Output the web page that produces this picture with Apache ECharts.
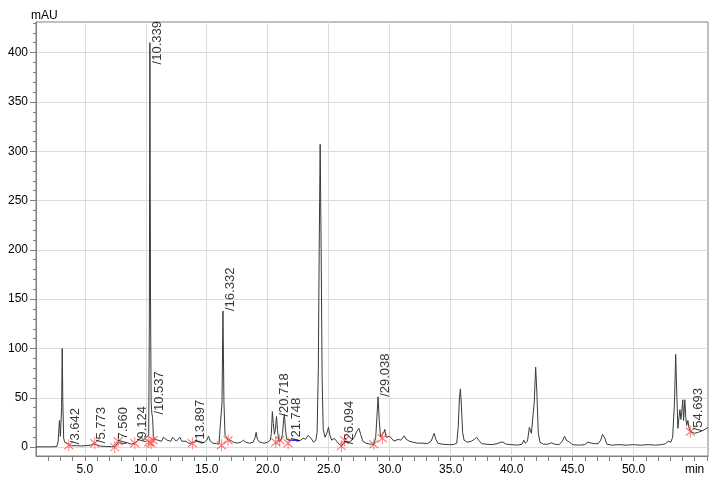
<!DOCTYPE html>
<html><head><meta charset="utf-8">
<script src="https://cdn.jsdelivr.net/npm/echarts@6/dist/echarts.min.js"></script>
<style>html,body{margin:0;padding:0;background:#fff}#c{width:721px;height:485px}</style>
</head><body><div id="c"></div>
<script>
// Chromatogram trace: [retention time (min), signal (mAU)]
const trace = [
[1.0,0.3],[2.0,0.3],[2.7,0.5],[2.82,6],[2.92,27],[3.0,11],[3.06,9],[3.1,40],[3.15,100],[3.2,45],[3.27,9],[3.35,5],[3.45,6],[3.55,4],[3.7,2],
[3.9,1.5],[4.3,1.5],[4.7,1.2],[5.1,1.5],[5.5,2],[5.7,3.5],[5.8,4.5],[5.95,2.5],[6.3,1],[6.8,0.6],[7.2,0.5],[7.46,0.3],[7.6,2],[7.75,5],[7.9,4],[8.2,3.5],[8.5,4.5],[8.8,3],[9.1,4],[9.25,6],[9.4,7],[9.55,9],[9.65,10],[9.8,7],[9.9,8],[10.05,10],[10.15,8],[10.24,12],
[10.29,120],[10.34,410],[10.39,150],[10.44,45],[10.5,34],[10.56,30],[10.62,12],[10.7,8],
[10.85,10],[11.0,7],[11.15,9],[11.3,6],[11.45,10],[11.6,11],[11.75,7],[11.9,9],[12.05,6],[12.2,10],[12.35,11],[12.5,6],[12.65,8],[12.8,10],[12.95,6],[13.1,5],[13.3,6],[13.5,4],[13.7,4],[13.85,3],[14.0,5],[14.2,6],[14.4,5],[14.6,4],[14.8,5],[15.0,7],[15.15,11],[15.3,6],[15.5,4],[15.8,3.5],[16.0,3],[16.15,3],
[16.25,45],[16.33,138],[16.41,45],[16.5,12],[16.6,10],[16.75,8],[16.9,6],[17.2,5],[17.5,4],[17.8,5],[18.0,7],[18.2,5],[18.5,4],[18.8,5],[18.95,9],[19.05,15],[19.15,8],[19.35,5],[19.7,4],[20.0,5],[20.2,7],[20.3,14],
[20.38,36],[20.46,24],[20.55,13],[20.63,18],[20.72,31],[20.8,18],[20.9,6],[21.0,5],[21.1,7],[21.22,14],[21.3,28],[21.37,33],[21.44,20],[21.55,8],[21.7,6],[21.85,7],[22.0,6],[22.2,7],[22.45,6],[22.7,7],[22.9,9],[23.1,8],[23.3,12],[23.42,14],[23.55,9],[23.75,5],[23.95,7],[24.05,15],
[24.15,80],[24.22,200],[24.3,307],[24.38,200],[24.46,70],[24.55,18],[24.7,10],[24.85,14],[24.98,20],[25.1,12],[25.25,7],[25.45,9],[25.65,6],[25.85,3],[26.04,1],[26.2,4],[26.45,6],[26.7,5],[26.9,7],[27.1,10],[27.3,16],[27.48,19],[27.62,13],[27.8,6],[28.05,4],[28.4,3],[28.7,3],[28.85,9],
[28.95,30],[29.05,51],[29.14,28],[29.25,10],[29.38,9],[29.52,15],[29.6,18],[29.7,10],[29.85,8],[30.0,11],[30.15,9],[30.35,6],[30.5,6],[30.7,8],[30.9,7],[31.05,9],[31.2,11.5],[31.35,8],[31.6,6],[31.9,5],[32.3,4],[32.7,4],[33.1,3.5],[33.4,6],[33.55,11],[33.65,14],[33.78,8],[33.95,4],[34.3,3],[34.8,2.5],[35.2,2.5],[35.5,4],
[35.62,20],[35.72,50],[35.8,59],[35.88,42],[35.98,15],[36.1,7],[36.35,5],[36.7,6],[36.95,8],[37.12,10],[37.3,7],[37.55,3.5],[37.9,3],[38.4,2.5],[38.8,3.5],[39.1,5],[39.3,5],[39.55,3],[40.0,2.5],[40.5,2],[40.85,3],[41.0,7],[41.12,4],[41.3,6],[41.45,20],[41.52,22],[41.62,14],[41.72,12],
[41.85,45],[41.97,81],[42.07,55],[42.18,15],[42.32,5],[42.6,3],[43.0,3],[43.25,4.5],[43.5,3],[43.9,2.5],[44.15,6],[44.34,11],[44.48,7],[44.6,8],[44.75,5],[45.0,2.5],[45.5,2],[46.0,2.5],[46.25,5],[46.38,7],[46.55,4],[46.75,3.5],[46.9,4.5],[47.1,3.5],[47.3,7],[47.45,13],[47.54,14.5],[47.64,9],[47.8,3],
[48.2,2],[48.8,2.5],[49.4,2],[50.0,2.5],[50.6,2],[51.2,2.5],[51.8,2],[52.3,2.5],[52.6,3.5],[52.85,6],[53.05,5],[53.2,10],[53.35,45],[53.45,94],[53.55,50],[53.63,19],[53.72,30],[53.8,38],[53.88,28],[53.95,36],[54.03,48],[54.1,27],[54.2,48],[54.28,30],[54.35,22],[54.45,27],[54.55,19],[54.65,16],[54.8,14],[55.0,14],[55.3,15],[55.6,16.5],[55.85,18],[56.1,20]
];

// Labelled peaks
const peakRT  = [3.642, 5.773, 7.560, 9.124, 10.339, 10.537, 13.897, 16.332, 20.718, 21.748, 26.094, 29.038, 54.693];
const peakMAU = [3,     4,     4,     5,     410,    33,     4,      138,    31,     6,      3,      51,     16];

// Integration event markers (red)
const markerMin = [3.69, 5.82, 7.46, 7.73, 9.10, 10.25, 10.43, 10.60, 13.82, 16.20, 16.75, 20.66, 20.98, 21.67, 26.04, 26.30, 28.70, 29.40, 54.65];
const markerMAU = [2,    4,    0,    6,    4,    5,     4,     7,     4,     2,     7,     5,     7,     4,     1,     7,     3,     9,     15.5];

// Blue baseline segment
const baseMin = [21.72, 22.50];
const baseMAU = [7, 7];

// Axis ticks
const yMajor = [0, 50, 100, 150, 200, 250, 300, 350, 400];
const yMinor = [0,10,20,30,40,50,60,70,80,90,100,110,120,130,140,150,160,170,180,190,200,210,220,230,240,250,260,270,280,290,300,310,320,330,340,350,360,370,380,390,400,410,420,430];
const xMajor = [5, 10, 15, 20, 25, 30, 35, 40, 45, 50];
const xLabelVals = [5, 10, 15, 20, 25, 30, 35, 40, 45, 50, 55];
const xMinor = [2,3,4,5,6,7,8,9,10,11,12,13,14,15,16,17,18,19,20,21,22,23,24,25,26,27,28,29,30,31,32,33,34,35,36,37,38,39,40,41,42,43,44,45,46,47,48,49,50,51,52,53,54,55,56];

const FONT = '"Liberation Sans", Arial, sans-serif';
const X_MIN = 1, X_MAX = 56.1, Y_MIN = -9, Y_MAX = 431;
const AXIS_COLOR = '#808080';
const GRID_COLOR = '#dcdcdc';

const chart = echarts.init(document.getElementById('c'), null, {renderer: 'canvas'});
const option = {
  animation: false,
  backgroundColor: '#fff',
  grid: {left: 36, right: 13, top: 22, bottom: 29, show: true, borderColor: AXIS_COLOR, borderWidth: 1, containLabel: false, outerBoundsMode: 'none'},
  graphic: [{type: 'text', left: 31, top: 10, style: {text: 'mAU', font: '12px ' + FONT, fill: '#000'}}],
  xAxis: [
    {type: 'value', min: X_MIN, max: X_MAX, position: 'bottom',
     axisLine: {show: true, onZero: false, lineStyle: {color: AXIS_COLOR}},
     axisTick: {show: true, customValues: xMajor, length: 5, lineStyle: {color: AXIS_COLOR}},
     axisLabel: {show: true, customValues: xLabelVals, margin: 8, color: '#000', fontSize: 12, fontFamily: FONT,
                 formatter: v => v === 55 ? 'min' : v.toFixed(1)},
     splitLine: {show: true, lineStyle: {color: GRID_COLOR, width: 1}}},
    {type: 'value', min: X_MIN, max: X_MAX, position: 'bottom',
     axisLine: {show: false, onZero: false},
     axisTick: {show: true, customValues: xMinor, length: 5, lineStyle: {color: AXIS_COLOR}},
     axisLabel: {show: false}, splitLine: {show: false}}
  ],
  yAxis: [
    {type: 'value', min: Y_MIN, max: Y_MAX, position: 'left',
     axisLine: {show: true, onZero: false, lineStyle: {color: AXIS_COLOR}},
     axisTick: {show: true, customValues: yMajor, length: 6, lineStyle: {color: AXIS_COLOR}},
     axisLabel: {show: true, customValues: yMajor, margin: 8, color: '#000', fontSize: 12, fontFamily: FONT},
     splitLine: {show: true, lineStyle: {color: GRID_COLOR, width: 1}}},
    {type: 'value', min: Y_MIN, max: Y_MAX, position: 'left',
     axisLine: {show: false, onZero: false},
     axisTick: {show: true, customValues: yMinor, length: 3, lineStyle: {color: AXIS_COLOR}},
     axisLabel: {show: false}, splitLine: {show: false}}
  ],
  series: [
    {name: 'signal', type: 'line', data: trace, showSymbol: false, symbol: 'none', silent: true, z: 3,
     lineStyle: {color: '#3a3a3a', width: 1}},
    {name: 'baseline', type: 'line', data: baseMin.map((t, i) => [t, baseMAU[i]]), showSymbol: false, symbol: 'none', silent: true, z: 4,
     lineStyle: {color: '#2a2aff', width: 1.5}},
    {name: 'events', type: 'scatter', data: markerMin.map((t, i) => [t, markerMAU[i]]), silent: true, z: 5,
     symbol: 'path://M5,0L5,12M1,2L9,10M9,2L1,10', symbolSize: [9, 12],
     itemStyle: {color: 'transparent', borderColor: '#ff4a4a', borderWidth: 1}},
    {name: 'peaks', type: 'scatter', data: peakRT.map((t, i) => [t, Math.min(peakMAU[i], 388)]), silent: true, z: 6,
     symbolSize: 0,
     label: {show: true, position: 'right', distance: 1, rotate: 90, align: 'left', verticalAlign: 'top',
             color: '#000', fontSize: 13, fontFamily: FONT,
             formatter: p => '/' + peakRT[p.dataIndex].toFixed(3)}}
  ]
};
chart.setOption(option);
</script></body></html>
